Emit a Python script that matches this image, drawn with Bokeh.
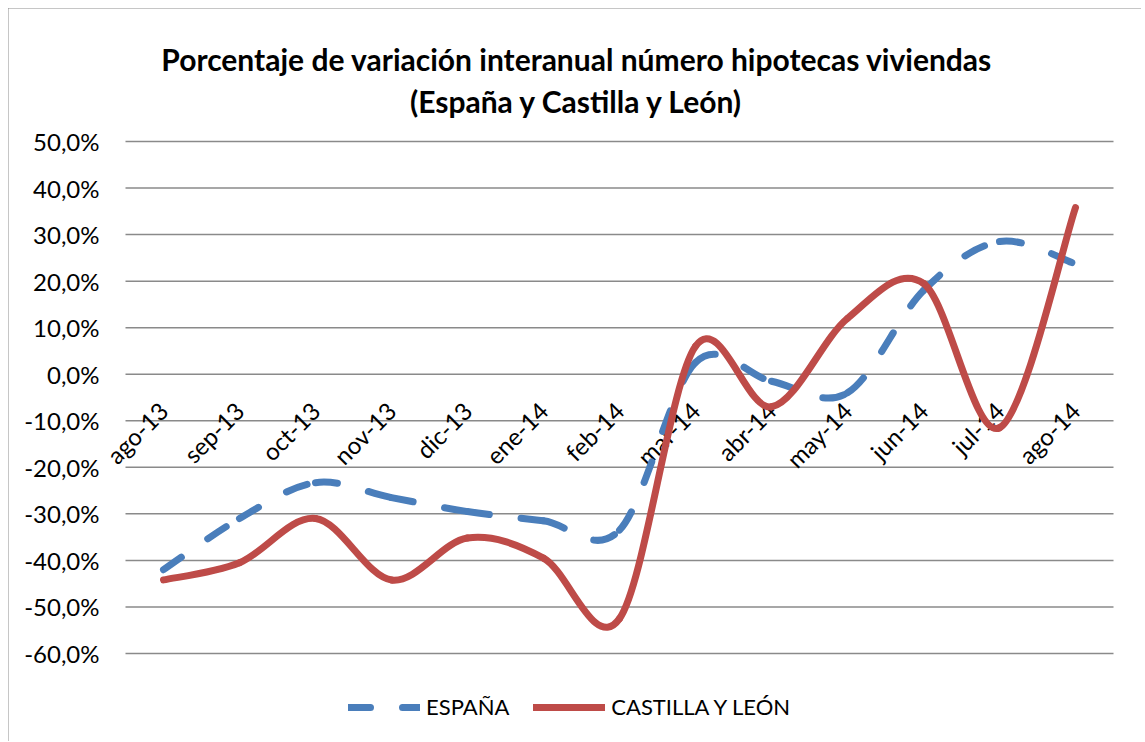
import numpy as np
from math import pi
from bokeh.plotting import figure
from bokeh.models import Range1d, Legend, LegendItem
from bokeh.core.properties import value
from bokeh.embed import file_html
from bokeh.resources import INLINE

# ---- data ----
meses = ["ago-13", "sep-13", "oct-13", "nov-13", "dic-13", "ene-14", "feb-14",
         "mar-14", "abr-14", "may-14", "jun-14", "jul-14", "ago-14"]
espana = [-42.0, -31.0, -23.3, -26.5, -29.5, -31.5, -33.5, 2.5, -1.5, -4.0, 18.0, 28.5, 23.7]
castilla = [-44.2, -40.5, -31.0, -44.2, -35.2, -39.5, -52.5, 6.0, -7.0, 12.0, 19.5, -11.5, 35.8]
y_ticks = [-60, -50, -40, -30, -20, -10, 0, 10, 20, 30, 40, 50]
y_labels = [f"{t:.1f}".replace(".", ",") + "%" for t in y_ticks]
title_lines = ["Porcentaje de variación interanual número hipotecas viviendas",
               "(España y Castilla y León)"]
series_names = ["ESPAÑA", "CASTILLA Y LEÓN"]

BLUE = "#4a7ebb"
RED = "#be4b48"
GRID = "#8a8a8a"
FONT = "Lato"

# ---- layout (canvas pixels) ----
W, H = 1133, 733
PLOT_L, PLOT_R, PLOT_T, PLOT_B = 117, 1105, 133, 645
YMIN, YMAX = -60, 50
n = len(meses)
px_cat = (PLOT_R - PLOT_L) / n
px_unit = (PLOT_B - PLOT_T) / (YMAX - YMIN)
x_start = -0.5 - PLOT_L / px_cat
x_end = -0.5 + (W - PLOT_L) / px_cat
y_end = YMAX + PLOT_T / px_unit
y_start = YMAX - (H - PLOT_T) / px_unit


def to_data(sx, sy):
    return x_start + sx / px_cat, y_end - sy / px_unit


def smooth_segments(vals):
    """Bezier control points (Excel-like smoothed line) from the data values."""
    m = len(vals)
    xs = np.arange(m, dtype=float)
    ys = np.array(vals, dtype=float)
    px = np.concatenate([[xs[0]], xs, [xs[-1]]])
    py = np.concatenate([[ys[0]], ys, [ys[-1]]])
    cx0 = xs[:-1] + (px[2:m + 1] - px[0:m - 1]) / 6
    cy0 = ys[:-1] + (py[2:m + 1] - py[0:m - 1]) / 6
    cx1 = xs[1:] - (px[3:m + 2] - px[1:m]) / 6
    cy1 = ys[1:] - (py[3:m + 2] - py[1:m]) / 6
    return dict(x0=xs[:-1], y0=ys[:-1], x1=xs[1:], y1=ys[1:],
                cx0=cx0, cy0=cy0, cx1=cx1, cy1=cy1)


p = figure(width=W, height=H, x_range=Range1d(x_start, x_end),
           y_range=Range1d(y_start, y_end), title=None,
           output_backend="svg", toolbar_location=None, min_border=0)
p.margin = (8, 4, 0, 8)
p.styles = {"outline": "1.5px solid #8c8c8c", "outline-offset": "-1px"}
p.axis.visible = False
p.grid.visible = False
p.outline_line_color = None
p.background_fill_color = "white"
p.border_fill_color = "white"

# horizontal gridlines
p.segment(x0=[-0.5] * len(y_ticks), x1=[n - 0.5] * len(y_ticks),
          y0=y_ticks, y1=y_ticks, line_color=GRID, line_width=1.5)

# value axis labels
p.text(x=[-0.5] * len(y_ticks), y=y_ticks, text=y_labels, x_offset=-26,
       text_align="right", text_baseline="middle",
       text_font=value(FONT), text_font_size="24px", text_color="black")

# title (two centred lines)
tx, ty1 = to_data(568.5, 50)
_, ty2 = to_data(568.5, 92)
p.text(x=[tx, tx], y=[ty1, ty2], text=title_lines, text_align="center",
       text_baseline="alphabetic", text_font=value(FONT),
       text_font_size="30px", text_font_style="bold", text_color="black")

# category labels, rotated, just below the zero line
p.text(x=list(range(n)), y=[0] * n, text=meses,
       angle=pi / 4, text_align="right", text_baseline="middle",
       y_offset=32, x_offset=0,
       text_font=value(FONT), text_font_size="24px", text_color="black")

seg_e = smooth_segments(espana)
seg_c = smooth_segments(castilla)
p.bezier(source=seg_e, x0="x0", y0="y0", x1="x1", y1="y1", cx0="cx0", cy0="cy0",
         cx1="cx1", cy1="cy1", line_color=BLUE, line_width=7,
         line_dash="22 32", line_cap="round")
p.bezier(source=seg_c, x0="x0", y0="y0", x1="x1", y1="y1", cx0="cx0", cy0="cy0",
         cx1="cx1", cy1="cy1", line_color=RED, line_width=7, line_cap="round")

# legend proxies (one NaN point each, nothing drawn in the plot)
r1 = p.line(x=[np.nan], y=[np.nan], line_color=BLUE, line_width=7,
            line_dash="22 32", line_cap="round")
r2 = p.line(x=[np.nan], y=[np.nan], line_color=RED, line_width=7, line_cap="round")
legend = Legend(items=[LegendItem(label=series_names[0], renderers=[r1]),
                       LegendItem(label=series_names[1], renderers=[r2])],
                orientation="horizontal", location=(340, 21),
                glyph_width=72, glyph_height=20, label_standoff=6, spacing=24,
                padding=0, margin=0, border_line_color=None,
                background_fill_alpha=0,
                label_text_font=FONT, label_text_font_size="22px",
                label_text_color="black")
p.add_layout(legend, "center")

open("out.html", "w").write(file_html(p, INLINE))
